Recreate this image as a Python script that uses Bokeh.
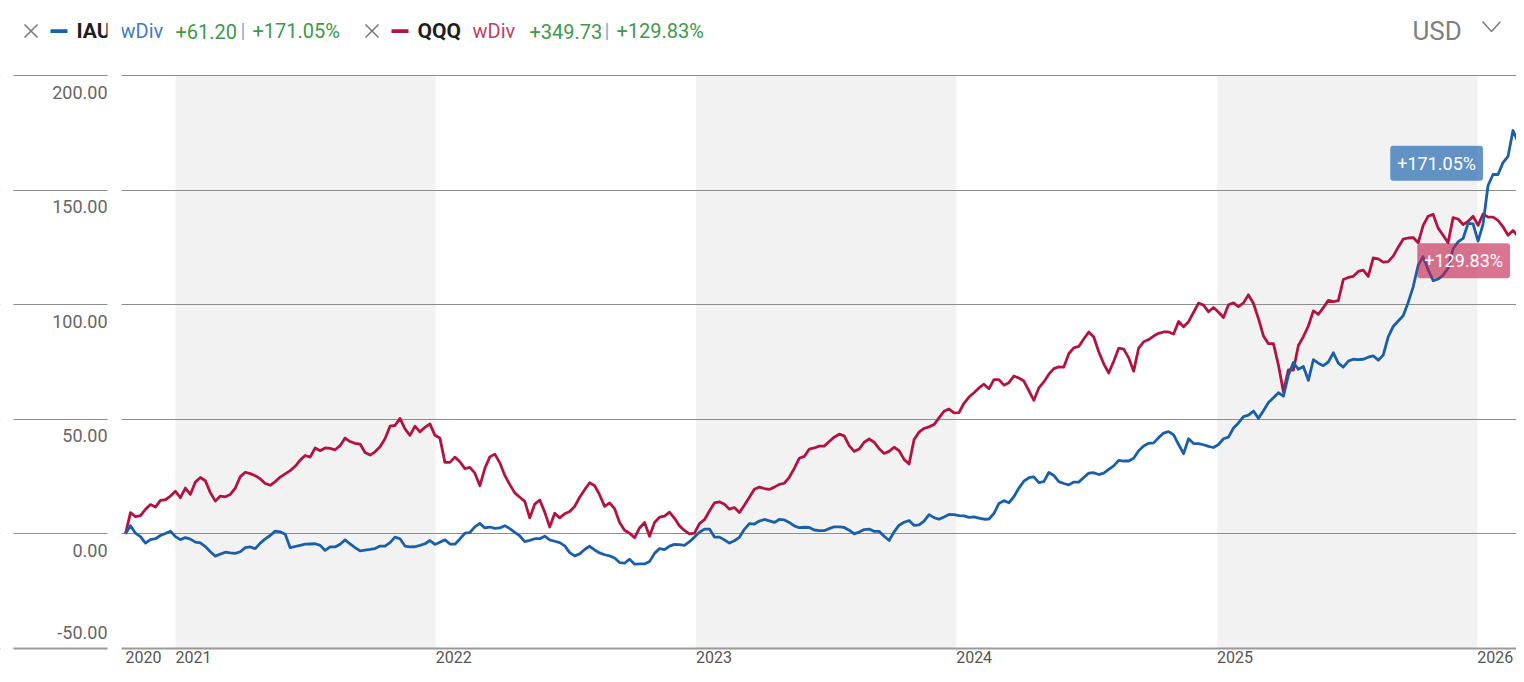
import pandas as pd
from bokeh.plotting import figure
from bokeh.models import Range1d, ColumnDataSource, Label, BoxAnnotation, Span, FixedTicker
from bokeh.core.properties import value
from bokeh.embed import file_html
from bokeh.resources import INLINE

# ---------------- data (weekly, % growth since start) ----------------
start_date = "2020-10-23"

iau = [0, 3.6, 0.3, -1.2, -4, -2.5, -2.1, -0.7, 0.2, 1.2,
       -1.2, -2.5, -1.6, -2.3, -3.6, -3.9, -5.5, -7.8, -9.7, -8.8,
       -8, -8.3, -8.5, -7.8, -6, -5.7, -6.4, -4, -2.2, -0.7,
       1.2, 0.9, -0.2, -6, -5.5, -5, -4.5, -4.4, -4.3, -5,
       -7.2, -5.7, -5.7, -4.5, -2.6, -4.4, -6, -7.4, -7.1, -6.8,
       -6.4, -5.3, -5.3, -3.8, -1.4, -2.1, -5.3, -5.7, -5.6, -5,
       -4.3, -2.9, -4.6, -3.6, -2.6, -4.4, -4.5, -2.2, 0.3, 0.6,
       3.1, 4.6, 2.6, 3, 2.4, 2.6, 3.6, 2.3, 0.7, -0.9,
       -3.4, -2.8, -2.1, -2.1, -1, -2.6, -3.2, -3.8, -5.2, -8.2,
       -9.6, -8.7, -6.8, -5.4, -7, -8.3, -9.1, -9.6, -10.5, -12.5,
       -12.8, -11, -13.2, -13.1, -13.1, -12, -8.5, -6.4, -6.9, -5.3,
       -4.6, -4.7, -5, -3.4, -1.4, 0.7, 2.1, 2.1, -1.4, -1.4,
       -2.6, -4, -3, -1.5, 2, 4.5, 4.3, 5.6, 6.3, 5.7,
       5, 6.3, 6.1, 5, 3.5, 2.7, 2.9, 2.8, 1.7, 1.4,
       1.4, 2.3, 3.1, 3.1, 2.8, 1.6, 0, 0.8, 1.9, 2.1,
       1.1, 1.1, -1, -2.9, 0.9, 3.8, 5.1, 5.8, 3.7, 3.9,
       5.6, 8.4, 7.1, 6.4, 7.4, 8.5, 8.4, 8, 7.9, 7.2,
       7.4, 6.9, 6.4, 6.5, 8.9, 13.3, 14.5, 13.6, 16.2, 20,
       23, 24.5, 24.9, 22.4, 22.8, 26.8, 25.5, 22.8, 22, 21.4,
       22.6, 22.6, 24.6, 26.5, 26.7, 25.9, 26.5, 28.1, 29.7, 32.1,
       31.8, 31.8, 33, 36.3, 38.4, 39.5, 39.7, 42, 44, 44.6,
       43.2, 39, 35, 41.5, 39.4, 39.4, 38.9, 38.2, 37.7, 39,
       41.5, 42.2, 46.2, 48.4, 51.2, 51.8, 53.6, 50.4, 53.7, 57.3,
       59.4, 61.6, 60.1, 69.3, 74.8, 71.8, 73, 67, 76, 74.5,
       73.4, 75, 79, 74.5, 72.8, 75.4, 76.2, 76, 76.2, 77.1,
       77.7, 75.8, 78, 86, 90.5, 92.9, 95.2, 101, 107.8, 117.2,
       120.9, 115.2, 110.5, 111.2, 112.9, 116, 124.4, 127.4, 128.9, 135.5,
       135.3, 127.7, 135.2, 152, 156.8, 156.8, 162, 164.7, 176, 171.05]

qqq = [0, 9.3, 7.5, 8, 10.7, 12.8, 11.7, 14.6, 14.9, 16.5,
       18.6, 15.8, 20, 17.2, 22.6, 24.6, 23.2, 18, 14.3, 16.5,
       16.2, 17.2, 20, 25, 26.9, 26.3, 25.4, 24, 22, 21.2,
       22.8, 24.8, 26.2, 27.6, 29.5, 32.2, 34.2, 33.5, 37.5, 36.3,
       37.5, 37.3, 36.7, 38.5, 41.8, 40.3, 39.5, 39.2, 35.5, 34.4,
       35.8, 38, 41.5, 47, 47.3, 50.4, 45.8, 43, 47, 44.5,
       46.5, 48, 43, 41.8, 31.2, 31.2, 33.5, 31.5, 28.5, 29,
       26.5, 21, 28.6, 33.6, 34.8, 31, 25.5, 21.5, 17.9, 16,
       14.2, 7, 13, 14.8, 9.5, 3, 9, 7, 8.8, 9.8,
       12, 16, 19.3, 22.3, 21, 17, 12, 13.5, 11, 5,
       1.6, 0.3, -1.7, 2.6, 5, -1, 5, 7.3, 7.8, 9.5,
       6.8, 3.5, 1.5, 0, 0.3, 4.5, 6.2, 10, 13.5, 14,
       12.9, 10.8, 11.5, 9.3, 12.5, 16, 19.5, 20.4, 19.8, 19.4,
       20.4, 21.6, 22.1, 24.7, 28.6, 33, 33.8, 37, 37.5, 38.3,
       38.3, 40.3, 42.2, 43.5, 42.8, 38.5, 36, 37, 40, 41.4,
       40, 37.2, 35.1, 36, 37.8, 36.3, 32.5, 30.5, 41.2, 44.4,
       46, 46.7, 47.7, 50.6, 53.5, 54.5, 52.8, 52.9, 57, 59.7,
       61.6, 63.7, 65.3, 63.3, 67.3, 67.3, 64.9, 66, 68.9, 68,
       66.7, 62.5, 58.3, 63.7, 66.3, 69.7, 72.1, 72.9, 72.8, 78.6,
       81.2, 81.8, 85, 88.1, 85.9, 79.5, 74.2, 70.2, 75.3, 81,
       80.6, 76.8, 71, 81.1, 83.8, 84.8, 86.3, 87.5, 88.1, 88.1,
       87.2, 92.7, 90.4, 92.6, 96.7, 100.7, 99.8, 96.9, 98.8, 96.7,
       94.4, 100, 100.8, 99.1, 100.8, 104.3, 100.5, 93.9, 86.4, 83,
       83, 73.7, 62, 71.6, 71.5, 82.2, 86.1, 90.7, 97.3, 95.8,
       98.7, 101.9, 101.3, 101.8, 111, 111.9, 112.4, 114.5, 115.1, 112.3,
       120.4, 120, 118.6, 118.8, 121.2, 125.1, 128.6, 129.1, 129.3, 127,
       134.6, 138.6, 139.4, 133.4, 130.3, 127, 138, 137.4, 135, 136.3,
       138.6, 134.6, 139.6, 138.2, 138.2, 136.8, 134, 130.3, 132.4, 129.83]

tickers = ["IAU", "QQQ"]
abs_change = ["+61.20", "+349.73"]
y_ticks = [-50, 0, 50, 100, 150, 200]
year_tick_dates = ["2020-10-23", "2021-01-01", "2022-01-01", "2023-01-01",
                   "2024-01-01", "2025-01-01", "2026-01-01"]
year_tick_labels = ["2020", "2021", "2022", "2023", "2024", "2025", "2026"]
shaded_years = [2021, 2023, 2025]
currency = "USD"

# ---------------- layout helpers (pixel geometry of the canvas) ----------------
FONT = "Roboto"
BLUE = "#1a5fa9"
RED = "#b3133f"
GREEN = "#3c9a48"
GRAY_ICON = "#7a7a7a"

W, H = 1516, 666
X0_PX = 125          # pixel of first data point
PX_PER_DAY = 0.7130
Y_TOP_PX, Y_BOT_PX = 75, 648   # pixels of top / bottom gridlines
ppu = (Y_BOT_PX - Y_TOP_PX) / (y_ticks[-1] - y_ticks[0])

d0 = pd.Timestamp(start_date)


def px2date(px):
    return d0 + pd.Timedelta(days=(px - X0_PX) / PX_PER_DAY)


def py2val(py):
    return y_ticks[-1] + (Y_TOP_PX - py) / ppu


dates = pd.date_range(start_date, periods=len(iau), freq="7D")

p = figure(width=W, height=H, x_axis_type="datetime", output_backend="svg",
           toolbar_location=None, x_range=Range1d(px2date(0), px2date(W)),
           y_range=Range1d(py2val(H), py2val(0)),
           min_border_left=0, min_border_right=0, min_border_top=0, min_border_bottom=0)
p.xaxis.visible = False
p.yaxis.visible = False
p.xgrid.visible = False
p.ygrid.ticker = FixedTicker(ticks=y_ticks)
p.ygrid.grid_line_color = "#8d8d8d"
p.ygrid.grid_line_width = 1
p.outline_line_color = None

# shaded alternate years
band_left = [pd.Timestamp(f"{y}-01-01") for y in shaded_years]
band_right = [pd.Timestamp(f"{y + 1}-01-01") for y in shaded_years]
p.quad(left=band_left, right=band_right, bottom=y_ticks[0], top=y_ticks[-1],
       fill_color="#f2f2f2", line_color=None, level="image")

# bottom base line
p.add_layout(Span(location=y_ticks[0], dimension="width", line_color="#9a9a9a", line_width=2))

# white margins: left edge and the gap between label column and plot area
p.add_layout(BoxAnnotation(right=px2date(13), fill_color="white", fill_alpha=1.0, line_color=None))
p.add_layout(BoxAnnotation(left=px2date(107), right=px2date(121), fill_color="white",
                           fill_alpha=1.0, line_color=None))

# y labels (below each gridline; the lowest one above its line)
ylab_x = px2date(107)
upper = [v for v in y_ticks if v > y_ticks[0]]
src_y = ColumnDataSource(dict(x=[ylab_x] * len(upper), y=upper,
                              text=[f"{v:.2f}" for v in upper]))
p.text(x="x", y="y", text="text", source=src_y, text_align="right", text_baseline="top",
       y_offset=10, text_font=value(FONT), text_font_size="18px", text_color="#666666")
p.text(x=[ylab_x], y=[y_ticks[0]], text=[f"{y_ticks[0]:.2f}"], text_align="right",
       text_baseline="bottom", y_offset=-10, text_font=value(FONT), text_font_size="18px",
       text_color="#666666")

# year labels (left-aligned at tick)
p.text(x=[pd.Timestamp(d) for d in year_tick_dates], y=[y_ticks[0]] * len(year_tick_dates),
       text=year_tick_labels, text_align="left", text_baseline="top", y_offset=2,
       text_font=value(FONT), text_font_size="16px", text_color="#555555")

# lines
p.line(dates, qqq, line_color=RED, line_width=2.8, line_join="round")
p.line(dates, iau, line_color=BLUE, line_width=2.8, line_join="round")

# end value tags
p.add_layout(Label(x=dates[-1], y=iau[-1], text=f"+{iau[-1]:.2f}%", text_align="right",
                   text_baseline="top", x_offset=-35, y_offset=-4, text_color="white",
                   text_font=FONT, text_font_size="18px", background_fill_color="#1e63ae",
                   background_fill_alpha=0.68, padding=7, border_radius=3))
p.add_layout(Label(x=dates[-1], y=qqq[-1], text=f"+{qqq[-1]:.2f}%", text_align="right",
                   text_baseline="top", x_offset=-8, y_offset=-7, text_color="white",
                   text_font=FONT, text_font_size="18px", background_fill_color="#c2204d",
                   background_fill_alpha=0.62, padding=7, border_radius=3))

# header legend
HY = py2val(30.5)


def hdr(px, txt, color, size="20px", style="normal"):
    p.text(x=[px2date(px)], y=[HY], text=[txt], text_align="left", text_baseline="middle",
           text_color=color, text_font=value(FONT), text_font_size=size,
           text_font_style=style)


def dash(px, color):
    p.quad(left=[px2date(px)], right=[px2date(px + 17)], top=[py2val(28.8)],
           bottom=[py2val(32.4)], fill_color=color, line_color=None)


def close_icon(px):
    # small "x" remove icon
    p.multi_line(xs=[[px2date(px), px2date(px + 13)], [px2date(px), px2date(px + 13)]],
                 ys=[[py2val(24), py2val(37)], [py2val(37), py2val(24)]],
                 line_color=GRAY_ICON, line_width=1.6)


pct = [f"+{iau[-1]:.2f}%", f"+{qqq[-1]:.2f}%"]
close_icon(24)
dash(50, BLUE)
hdr(76, tickers[0], "#1e1e1e", "21px", "bold")
hdr(120, "wDiv", "#3d7cc9")
hdr(175, abs_change[0], GREEN)
hdr(240, "|", "#8aa9cc")
hdr(252, pct[0], GREEN)
close_icon(365)
dash(391, RED)
hdr(417, tickers[1], "#1e1e1e", "21px", "bold")
hdr(472, "wDiv", "#c33d63")
hdr(529, abs_change[1], GREEN)
hdr(604, "|", "#8aa9cc")
hdr(616, pct[1], GREEN)
hdr(1412, currency, "#808080", "26px")
# dropdown chevron
p.line(x=[px2date(1482), px2date(1491), px2date(1500)], y=[py2val(21), py2val(31), py2val(21)],
       line_color="#808080", line_width=1.6)

open("out.html", "w").write(file_html(p, INLINE))
